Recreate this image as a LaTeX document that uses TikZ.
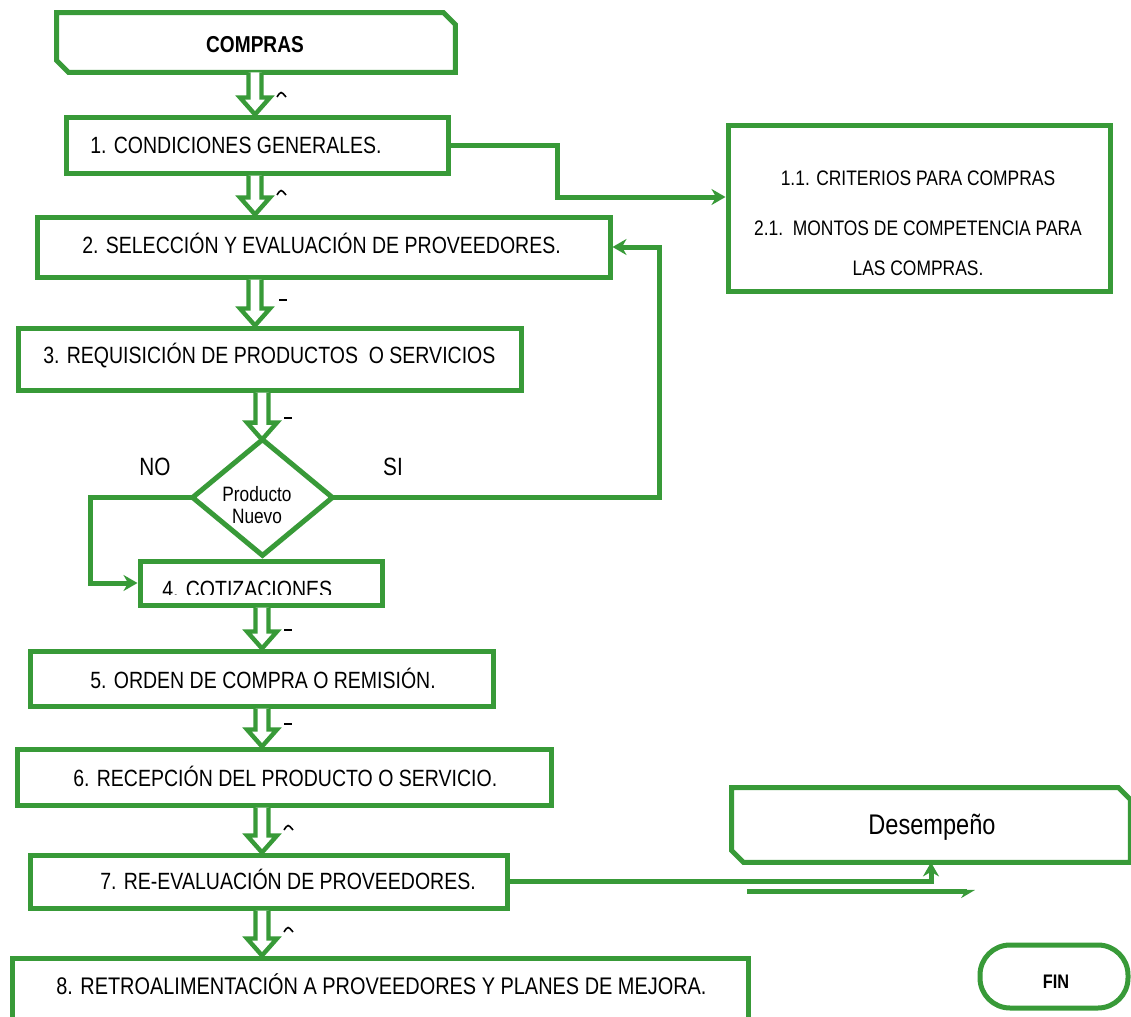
\documentclass[tikz,border=0pt]{standalone}
\usepackage{fontspec}
\setmainfont{Liberation Sans}[FakeStretch=0.83]
\usetikzlibrary{arrows.meta,fit,calc}
\definecolor{fg}{RGB}{56,154,56}
\tikzset{
  box/.style={draw=fg, line width=2.5pt, fill=white, inner sep=0pt, rectangle},
  frame/.style={inner sep=0pt},
  outline/.style={draw=fg, line width=2.5pt},
  conn/.style={draw=fg, line width=2.5pt},
  tipS/.style={-{Stealth[length=7pt,width=8pt]}},
  blockarr/.style={draw=fg, fill=white, line width=2.2pt, line join=miter},
  txt/.style={anchor=base west, inner sep=0pt, font=\fontsize{11.75}{14}\selectfont},
  ctxt/.style={anchor=base, inner sep=0pt, font=\fontsize{11.75}{14}\selectfont},
  tick/.style={draw=black, line width=0.8pt},
}
\newcommand{\blockarrow}[3]{%
  \path (#1.south -| #3) coordinate (tA) (#2.north -| #3) coordinate (tB);
  \draw[blockarr] ([xshift=-3.25pt]tA) -- ([xshift=-3.25pt,yshift=8.5pt]tB)
    -- ([xshift=-7.5pt,yshift=8.5pt]tB) -- (tB) -- ([xshift=7.5pt,yshift=8.5pt]tB)
    -- ([xshift=3.25pt,yshift=8.5pt]tB) -- ([xshift=3.25pt]tA);}
\begin{document}
\begin{tikzpicture}[x=0.5pt,y=-0.5pt]
\clip (0,0) rectangle (1131,1017);
\fill[white] (0,0) rectangle (1131,1017);

% x positions of block arrows
\coordinate (ax1) at (255,0);
\coordinate (ax2) at (262,0);

% COMPRAS (chamfered)
\node[frame, fit={(57,13) (455,72)}] (compras) {};
\draw[outline] (compras.north west) -- ([xshift=-6pt]compras.north east)
  -- ([yshift=-6pt]compras.north east) -- (compras.south east)
  -- ([xshift=6pt]compras.south west) -- ([yshift=6pt]compras.south west) -- cycle;
\node[ctxt, font=\bfseries\fontsize{11.5}{14}\selectfont] (tcompras) at (255,52) {COMPRAS};

% Boxes
\node[box, fit={(66,117) (448,173)}] (b1) {};
\node[txt] (t1) at (90,153) {1. CONDICIONES GENERALES.};

\node[box, fit={(37,217) (610,277)}] (b2) {};
\node[txt] (t2) at (82,253) {2. SELECCIÓN Y EVALUACIÓN DE PROVEEDORES.};

\node[box, fit={(18,328) (521,390)}] (b3) {};
\node[txt] (t3) at (43,363) {3. REQUISICIÓN DE PRODUCTOS\ \ O SERVICIOS};

% diamond
\node[frame, fit={(193,440) (332,555)}] (dia) {};
\draw[outline, fill=white] (dia.north) -- (dia.east) -- (dia.south) -- (dia.west) -- cycle;
\node[ctxt, font=\fontsize{10.4}{12}\selectfont] (tp1) at (257,501) {Producto};
\node[ctxt, font=\fontsize{10.4}{12}\selectfont] (tp2) at (257,523) {Nuevo};
\node[ctxt, font=\fontsize{12.5}{14}\selectfont] (tno) at (155,475) {NO};
\node[ctxt, font=\fontsize{12.5}{14}\selectfont] (tsi) at (393,475) {SI};

\node[box, fit={(140,561) (382,605)}] (b4) {};
\begin{scope}
  \clip (140,561) rectangle (382,594);
  \node[txt] (t4) at (162,597) {4. COTIZACIONES};
\end{scope}

\node[box, fit={(30,651) (493,706)}] (b5) {};
\node[txt] (t5) at (90,688) {5. ORDEN DE COMPRA O REMISIÓN.};

\node[box, fit={(17,749) (551,805)}] (b6) {};
\node[txt] (t6) at (73,786) {6. RECEPCIÓN DEL PRODUCTO O SERVICIO.};

\node[box, fit={(30,855) (507,908)}] (b7) {};
\node[txt] (t7) at (100,889) {7. RE-EVALUACIÓN DE PROVEEDORES.};

\node[box, fit={(12,958) (748,1040)}] (b8) {};
\node[txt, font=\fontsize{12}{14}\selectfont] (t8) at (56,994) {8. RETROALIMENTACIÓN A PROVEEDORES Y PLANES DE MEJORA.};

% 1.1 box
\node[box, fit={(728,125) (1110,291)}] (b11) {};
\node[ctxt, font=\fontsize{10.5}{13}\selectfont] (t11a) at (918,185) {1.1. CRITERIOS PARA COMPRAS};
\node[ctxt, font=\fontsize{10.5}{13}\selectfont] (t11b) at (918,235) {2.1.\ \ MONTOS DE COMPETENCIA PARA};
\node[ctxt, font=\fontsize{10.5}{13}\selectfont] (t11c) at (918,275) {LAS COMPRAS.};

% Desempeño (chamfered)
\node[frame, fit={(732,788) (1130,862)}] (des) {};
\draw[outline] (des.north west) -- ([xshift=-6pt]des.north east)
  -- ([yshift=-6pt]des.north east) -- (des.south east)
  -- ([xshift=6pt]des.south west) -- ([yshift=6pt]des.south west) -- cycle;
\node[ctxt, font=\fontsize{14.2}{17}\selectfont] (tdes) at (932,834) {Desempeño};

% FIN
\node[box, rounded corners=15pt, fit={(980,945) (1128,1008)}] (fin) {};
\node[ctxt, font=\bfseries\fontsize{9.8}{12}\selectfont] (tfin) at (1056,988) {FIN};

% block arrows
\blockarrow{compras}{b1}{ax1}
\blockarrow{b1}{b2}{ax1}
\blockarrow{b2}{b3}{ax1}
\blockarrow{b3}{dia}{ax2}
\blockarrow{b4}{b5}{ax2}
\blockarrow{b5}{b6}{ax2}
\blockarrow{b6}{b7}{ax2}
\blockarrow{b7}{b8}{ax2}

% tiny marks
\draw[tick] (277,97) .. controls (281,91) .. (286,97);
\draw[tick] (277,195) .. controls (281,189) .. (286,195);
\draw[tick] (279,300) -- (287,300);
\draw[tick] (284,418) -- (292,418);
\draw[tick] (284,630) -- (292,630);
\draw[tick] (284,724) -- (292,724);
\draw[tick] (284,830) .. controls (288,824) .. (293,830);
\draw[tick] (284,932) .. controls (288,926) .. (293,932);

% connectors
\coordinate (c11) at (557,197);
\draw[conn, tipS] (b1.east) -| (c11) -- (c11 -| b11.west);
\draw[conn, tipS] (dia.east) -| ($(b2.east)+(47,0)$) -- (b2.east);
\draw[conn, tipS] (dia.west) -| ($(b4.west)+(-47,0)$) -- (b4.west);
\draw[conn, tipS] (b7.east) -| (des.south);
\coordinate (f1) at (747,891);
\coordinate (f2) at (975,891);
\draw[conn, -{Stealth[length=6pt,width=7pt,harpoon,swap]}] (f1) -- (f2);
\end{tikzpicture}
\end{document}
